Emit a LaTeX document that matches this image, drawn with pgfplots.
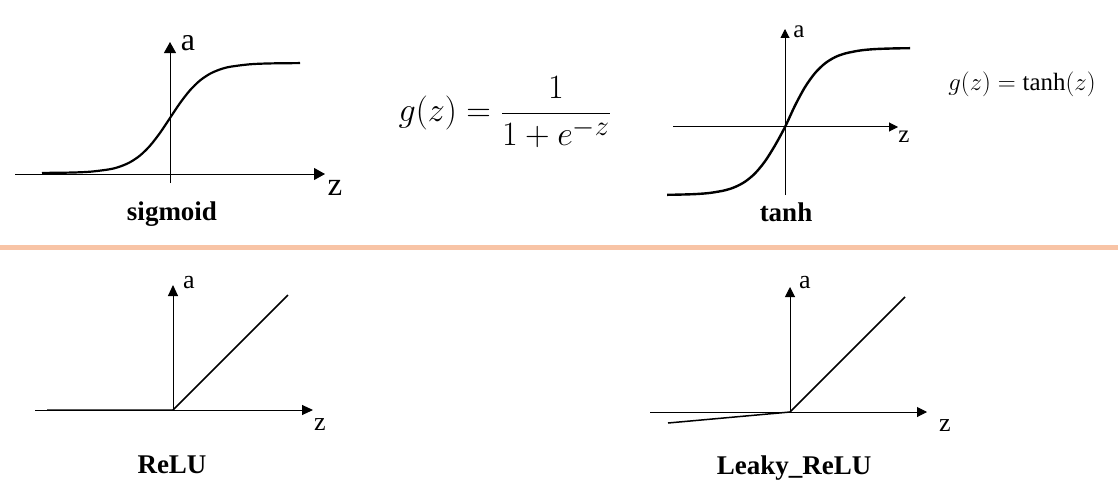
\documentclass[border=0pt]{standalone}
\usepackage{fontspec}
\setmainfont{Liberation Serif}
\usepackage{pgfplots}
\pgfplotsset{compat=1.18}
\usetikzlibrary{arrows.meta}
\definecolor{sep}{RGB}{248,196,166}
\pgfplotsset{act/.style={axis lines=middle, x=1pt, y=1pt, xtick=\empty, ytick=\empty,
  clip=false, anchor=south west, axis line style={black, line width=1pt}}}
\begin{document}
\begin{tikzpicture}
\useasboundingbox (0pt,0pt) rectangle (1118pt,-501pt);
\draw[sep, line width=5pt] (0pt,-247pt) -- (1118pt,-247pt);

% sigmoid
\begin{axis}[act, at={(15pt,-183pt)}, xmin=-155, xmax=155, ymin=-9, ymax=132,
  every inner x axis line/.append style={-{Triangle[length=11pt,width=12pt]}},
  every inner y axis line/.append style={-{Triangle[length=11pt,width=12pt]}}]
\addplot[black, line width=2.2pt, smooth] coordinates {
(-128,1.09) (-100,1.42) (-80,2.28) (-60,4.79) (-50,7.44) (-40,11.76) (-30,18.48)
(-20,28.25) (-10,41.1) (0,56) (10,70.9) (20,83.75) (30,93.52) (40,100.24)
(50,104.56) (60,107.21) (80,109.72) (100,110.58) (130,110.92)};
\end{axis}

% tanh
\begin{axis}[act, at={(673pt,-195pt)}, xmin=-112, xmax=113, ymin=-68, ymax=98,
  every inner x axis line/.append style={-{Triangle[length=9pt,width=9pt]}},
  every inner y axis line/.append style={-{Triangle[length=9pt,width=9pt]}}]
\addplot[black, line width=2.4pt, smooth] coordinates {
(-118,-67.8) (-110,-67.7) (-90,-67.1) (-75,-65.9) (-60,-63.3) (-50,-60.0) (-40,-54.7)
(-30,-46.4) (-20,-34.3) (-10,-18.4) (0,0) (10,21.4) (20,39.9) (30,53.9) (40,63.6)
(50,69.8) (60,73.5) (75,76.5) (90,77.9) (110,78.6) (125,78.8)};
\end{axis}

% ReLU
\begin{axis}[act, at={(35pt,-410pt)}, xmin=-138, xmax=140, ymin=0, ymax=125,
  every inner x axis line/.append style={-{Triangle[length=11pt,width=10pt]}},
  every inner y axis line/.append style={-{Triangle[length=11pt,width=10pt]}}]
\addplot[black, line width=1.5pt] coordinates {(-126,0) (0,0) (115,115)};
\end{axis}

% Leaky ReLU
\begin{axis}[act, at={(650pt,-412pt)}, xmin=-140, xmax=137, ymin=0, ymax=125,
  every inner x axis line/.append style={-{Triangle[length=10pt,width=10pt]}},
  every inner y axis line/.append style={-{Triangle[length=10pt,width=10pt]}}]
\addplot[black, line width=1.5pt] coordinates {(-122,-11) (0,0) (115,115)};
\end{axis}

% labels
\node[anchor=base, font=\fontsize{32}{36}\selectfont] at (188pt,-50pt) {a};
\node[anchor=base, font=\fontsize{33}{36}\selectfont] at (335pt,-195pt) {z};
\node[anchor=base, font=\fontsize{27}{32}\selectfont\bfseries] at (172pt,-220pt) {sigmoid};

\node[font=\fontsize{24.88}{30}\selectfont, scale=1.37] at (505pt,-112pt) {$\displaystyle g(z) = \frac{1}{1+e^{-z}}$};

\node[anchor=base, font=\fontsize{25}{30}\selectfont] at (799pt,-37pt) {a};
\node[anchor=base, font=\fontsize{25}{30}\selectfont] at (904pt,-142pt) {z};
\node[anchor=base, font=\fontsize{27}{32}\selectfont\bfseries] at (786pt,-221pt) {tanh};
\node[font=\fontsize{24.88}{30}\selectfont] at (1022pt,-84pt) {$g(z) = \tanh(z)$};

\node[anchor=base, font=\fontsize{26}{30}\selectfont] at (189pt,-288pt) {a};
\node[anchor=base, font=\fontsize{26}{30}\selectfont] at (320pt,-430pt) {z};
\node[anchor=base, font=\fontsize{27}{32}\selectfont\bfseries] at (172pt,-473pt) {ReLU};

\node[anchor=base, font=\fontsize{26}{30}\selectfont] at (805pt,-288pt) {a};
\node[anchor=base, font=\fontsize{26}{30}\selectfont] at (945pt,-431pt) {z};
\node[anchor=base, font=\fontsize{27}{32}\selectfont\bfseries] at (794pt,-474pt) {Leaky\_ReLU};
\end{tikzpicture}
\end{document}
